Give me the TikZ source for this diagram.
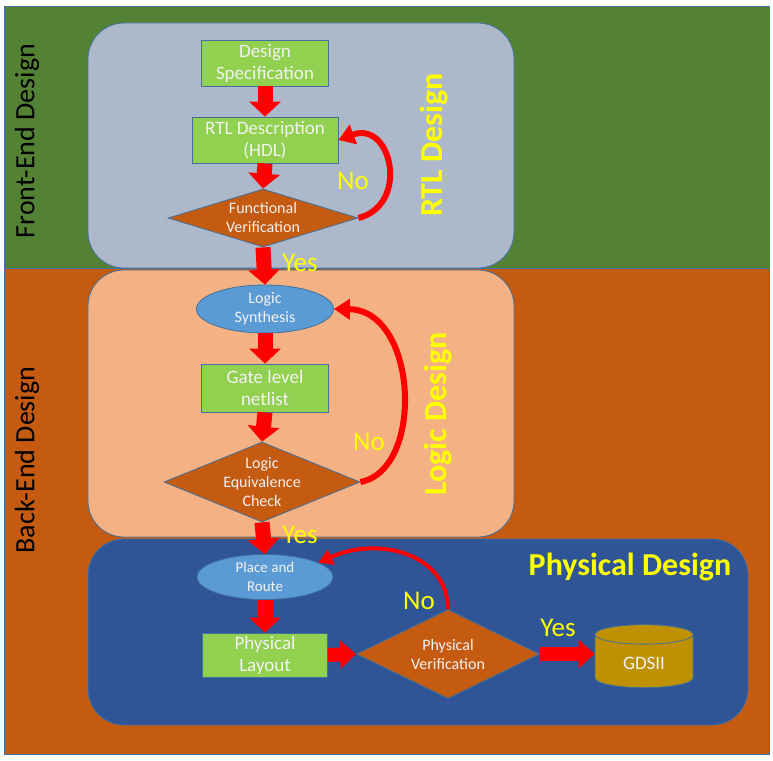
\documentclass[tikz,border=0pt]{standalone}
\usepackage{fontspec}
\setmainfont{Carlito}
\usetikzlibrary{arrows.meta,shapes.geometric}

\definecolor{bandgreen}{HTML}{548235}
\definecolor{bandorange}{HTML}{C55A11}
\definecolor{rtlgray}{HTML}{ADB9CA}
\definecolor{logicpeach}{HTML}{F4B183}
\definecolor{physblue}{HTML}{2F5597}
\definecolor{boxgreen}{HTML}{92D050}
\definecolor{decorange}{HTML}{C55A11}
\definecolor{ovalblue}{HTML}{5B9BD5}
\definecolor{gdsgold}{HTML}{BF9000}
\definecolor{edgeblue}{HTML}{41719C}
\definecolor{labelyellow}{HTML}{FFFF00}
\definecolor{nodetext}{HTML}{F2F2F2}

\tikzset{
	stagebox/.style={draw=edgeblue, line width=0.8pt, rounded corners=36pt},
	procbox/.style={rectangle, draw=edgeblue, line width=0.8pt, fill=boxgreen, text=nodetext, align=center, minimum width=127pt, minimum height=46pt, inner sep=0pt, font=\fontsize{19}{22}\selectfont},
	decbox/.style={diamond, draw=edgeblue, line width=0.8pt, fill=decorange, text=nodetext, align=center, inner sep=-2pt, aspect=2.5, font=\fontsize{16}{19}\selectfont},
	ovalbox/.style={ellipse, draw=edgeblue, line width=0.8pt, fill=ovalblue, text=nodetext, align=center, minimum width=137pt, minimum height=48pt, inner sep=0pt, font=\fontsize{16}{19}\selectfont},
	flow/.style={draw=red, line width=15pt, -{Triangle[width=31pt,length=15pt]}},
	sideflow/.style={draw=red, line width=14pt, -{Triangle[width=28pt,length=16pt]}},
	redo/.style={draw=red, line width=6pt, -{Triangle[width=20pt,length=16pt]}},
	answer/.style={text=labelyellow, font=\fontsize{27}{30}\selectfont},
	stagename/.style={text=labelyellow, font=\fontsize{32}{36}\selectfont\bfseries},
	bandname/.style={text=black, font=\fontsize{28}{32}\selectfont, rotate=90},
}

\begin{document}
\begin{tikzpicture}[x=1pt, y=-1pt]
			%%%%% BACKGROUND %%%%%
			\fill[white] (0,0) rectangle (773,760);
			\draw[fill=bandgreen, draw=edgeblue] (4,6) rectangle (769,268);
			\draw[fill=bandorange, draw=edgeblue] (4,268) rectangle (769,754);
			
			\draw[stagebox, fill=rtlgray] (88,23) rectangle (514,268);
			\draw[stagebox, fill=logicpeach] (88,270) rectangle (514,537);
			\draw[stagebox, fill=physblue] (88,539) rectangle (748,725);
			
			\node[bandname] (front) at (27,141) {Front-End Design};
			\node[bandname] (back) at (27,460) {Back-End Design};
			
			%%%%% RTL DESIGN %%%%%
			\node[procbox] (spec) at (265,63) {Design\\Specification};
			\node[procbox, minimum width=146pt] (rtl) at (265,140) {RTL Description\\(HDL)};
			\node[decbox, aspect=3, minimum width=190pt, minimum height=58pt] (fv) at (263,218) {Functional\\Verification};
			
			\draw[flow] (spec.south) -- (rtl.north);
			\draw[flow] (rtl.south) -- (fv.north);
			\draw[redo] (fv.east) .. controls (410,205) and (392,120) .. (rtl.east);
			
			\node[answer] (fvno) at (353,181) {No};
			\node[stagename, rotate=90] (rtlname) at (434,145) {RTL Design};
			
			%%%%% LOGIC DESIGN %%%%%
			\node[ovalbox] (syn) at (265,309) {Logic\\Synthesis};
			\node[procbox, minimum height=48pt] (gate) at (265,388) {Gate level\\netlist};
			\node[decbox, minimum width=196pt, minimum height=80pt] (lec) at (262,482) {Logic\\Equivalence\\Check};
			
			\draw[flow] (fv.south) -- (syn.north);
			\draw[flow] (syn.south) -- (gate.north);
			\draw[flow] (gate.south) -- (lec.north);
			\draw[redo] (lec.east) .. controls (425,470) and (418,310) .. (syn.east);
			
			\node[answer] (fvyes) at (300,263) {Yes};
			\node[answer] (lecno) at (369,442) {No};
			\node[stagename, rotate=90] (logicname) at (438,414) {Logic Design};
			
			%%%%% PHYSICAL DESIGN %%%%%
			\node[ovalbox, minimum width=136pt, minimum height=45pt, font=\fontsize{15}{19}\selectfont] (pr) at (265,577) {Place and\\Route};
			\node[procbox, minimum width=125pt, minimum height=44pt] (lay) at (265,655) {Physical\\Layout};
			\node[decbox, aspect=3.2, minimum width=183pt, minimum height=89pt] (pv) at (448,654) {Physical\\Verification};
			\node[cylinder, shape border rotate=90, aspect=0.4, draw=edgeblue, line width=0.8pt, fill=gdsgold, text=nodetext, minimum width=98pt, minimum height=63pt, font=\fontsize{19}{22}\selectfont] (gds) at (644,663) {GDSII};
			
			\draw[flow] (lec.south) -- (pr.north);
			\draw[flow] (pr.south) -- (lay.north);
			\draw[sideflow] (lay.east) -- (pv.west);
			\draw[sideflow] (pv.east) -- (pv.east -| gds.180);
			\draw[redo, line width=4pt, -{Triangle[width=16pt,length=14pt]}] (pv.north) .. controls (448,555) and (380,535) .. (pr.15);
			
			\node[answer] (lecyes) at (300,535) {Yes};
			\node[answer] (pvno) at (419,601) {No};
			\node[answer] (pvyes) at (558,628) {Yes};
			\node[stagename] (physname) at (630,567) {Physical Design};
			
\end{tikzpicture}
\end{document}
